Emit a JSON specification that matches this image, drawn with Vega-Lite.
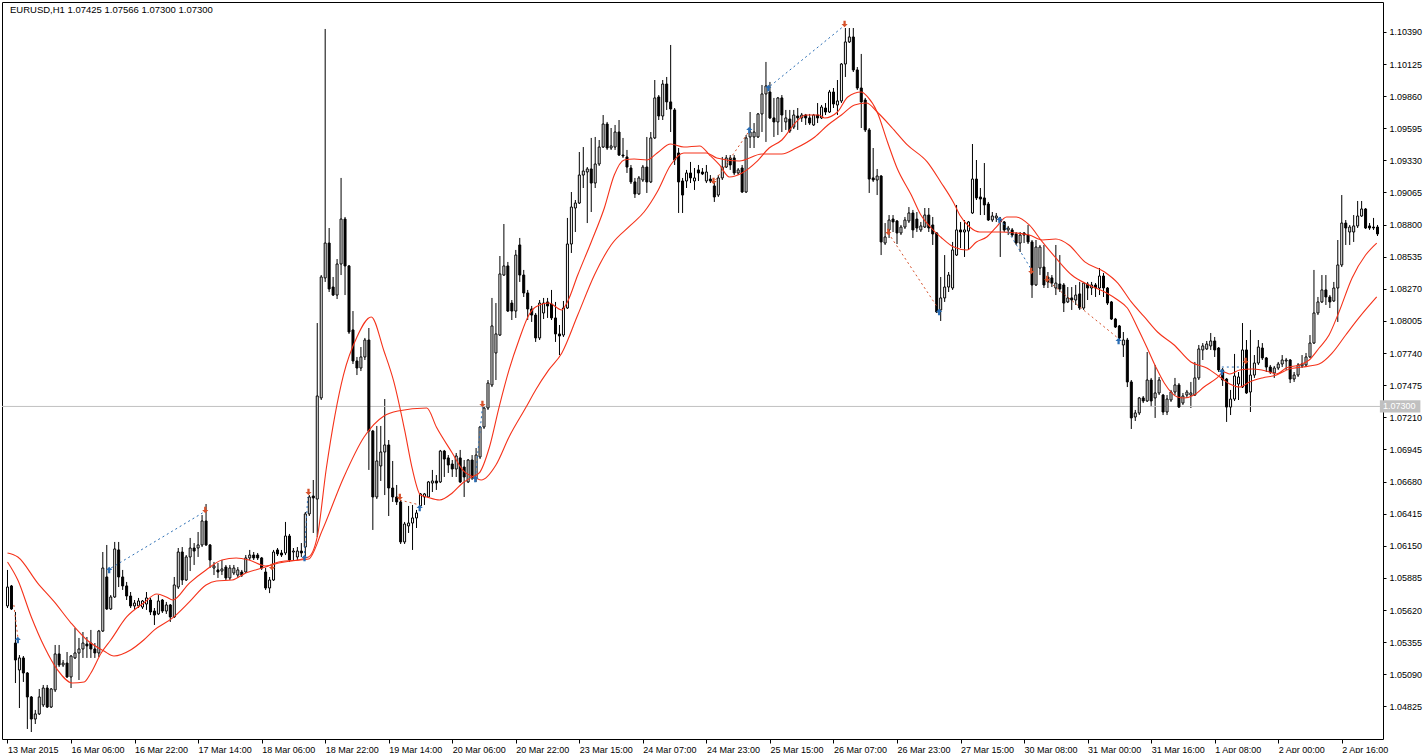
{
"$schema": "https://vega.github.io/schema/vega-lite/v6.json",
"width": 1381, "height": 737,
"autosize": {"type": "none"},
"padding": {"left": 2, "top": 2, "right": 45, "bottom": 14},
"background": "white",
"config": {"view": {"stroke": "black", "strokeWidth": 1}, "font": "Liberation Sans",
"axisX": {"labelOverlap": false, "labelFlush": false, "labelBound": false},
"axisY": {"labelOverlap": false, "labelFlush": false, "labelBound": false}},
"datasets": {
"bars": [
{"i":0,"o":1.05654,"h":1.05951,"l":1.05637,"c":1.05810},
{"i":1,"o":1.05819,"h":1.05827,"l":1.05621,"c":1.05629},
{"i":2,"o":1.05348,"h":1.05604,"l":1.05018,"c":1.05208},
{"i":3,"o":1.05126,"h":1.05249,"l":1.04812,"c":1.05225},
{"i":4,"o":1.05225,"h":1.05241,"l":1.05027,"c":1.05101},
{"i":5,"o":1.05101,"h":1.05109,"l":1.04639,"c":1.04903},
{"i":6,"o":1.04903,"h":1.04911,"l":1.04614,"c":1.04721},
{"i":7,"o":1.04721,"h":1.04796,"l":1.04680,"c":1.04763},
{"i":8,"o":1.04763,"h":1.04969,"l":1.04754,"c":1.04903},
{"i":9,"o":1.04837,"h":1.05002,"l":1.04820,"c":1.04977},
{"i":10,"o":1.04977,"h":1.05002,"l":1.04812,"c":1.04820},
{"i":11,"o":1.04820,"h":1.04977,"l":1.04812,"c":1.04969},
{"i":12,"o":1.04961,"h":1.05332,"l":1.04944,"c":1.05258},
{"i":13,"o":1.05258,"h":1.05332,"l":1.05150,"c":1.05167},
{"i":14,"o":1.05167,"h":1.05208,"l":1.05150,"c":1.05183},
{"i":15,"o":1.05183,"h":1.05274,"l":1.05060,"c":1.05068},
{"i":16,"o":1.05068,"h":1.05249,"l":1.04977,"c":1.05241},
{"i":17,"o":1.05225,"h":1.05472,"l":1.05216,"c":1.05266},
{"i":18,"o":1.05266,"h":1.05390,"l":1.05043,"c":1.05299},
{"i":19,"o":1.05299,"h":1.05439,"l":1.05225,"c":1.05348},
{"i":20,"o":1.05340,"h":1.05398,"l":1.05225,"c":1.05324},
{"i":21,"o":1.05348,"h":1.05456,"l":1.05225,"c":1.05299},
{"i":22,"o":1.05299,"h":1.05348,"l":1.05225,"c":1.05266},
{"i":23,"o":1.05266,"h":1.05456,"l":1.05233,"c":1.05447},
{"i":24,"o":1.05447,"h":1.06099,"l":1.05439,"c":1.05967},
{"i":25,"o":1.05893,"h":1.06157,"l":1.05621,"c":1.05629},
{"i":26,"o":1.05629,"h":1.05744,"l":1.05621,"c":1.05728},
{"i":27,"o":1.05728,"h":1.06182,"l":1.05720,"c":1.06124},
{"i":28,"o":1.06116,"h":1.06182,"l":1.05810,"c":1.05893},
{"i":29,"o":1.05893,"h":1.05951,"l":1.05786,"c":1.05819},
{"i":30,"o":1.05819,"h":1.05852,"l":1.05703,"c":1.05736},
{"i":31,"o":1.05736,"h":1.05769,"l":1.05637,"c":1.05654},
{"i":32,"o":1.05654,"h":1.05703,"l":1.05621,"c":1.05678},
{"i":33,"o":1.05654,"h":1.05720,"l":1.05637,"c":1.05695},
{"i":34,"o":1.05645,"h":1.05703,"l":1.05629,"c":1.05695},
{"i":35,"o":1.05670,"h":1.05769,"l":1.05621,"c":1.05720},
{"i":36,"o":1.05703,"h":1.05720,"l":1.05579,"c":1.05604},
{"i":37,"o":1.05612,"h":1.05637,"l":1.05497,"c":1.05579},
{"i":38,"o":1.05588,"h":1.05744,"l":1.05579,"c":1.05695},
{"i":39,"o":1.05703,"h":1.05711,"l":1.05596,"c":1.05612},
{"i":40,"o":1.05612,"h":1.05687,"l":1.05588,"c":1.05662},
{"i":41,"o":1.05662,"h":1.05670,"l":1.05522,"c":1.05563},
{"i":42,"o":1.05563,"h":1.05893,"l":1.05555,"c":1.05827},
{"i":43,"o":1.05810,"h":1.06132,"l":1.05794,"c":1.06099},
{"i":44,"o":1.06099,"h":1.06140,"l":1.05827,"c":1.05868},
{"i":45,"o":1.05868,"h":1.06074,"l":1.05860,"c":1.06058},
{"i":46,"o":1.06058,"h":1.06215,"l":1.05942,"c":1.06132},
{"i":47,"o":1.06132,"h":1.06173,"l":1.05992,"c":1.06107},
{"i":48,"o":1.06132,"h":1.06264,"l":1.06058,"c":1.06157},
{"i":49,"o":1.06157,"h":1.06404,"l":1.06140,"c":1.06355},
{"i":50,"o":1.06355,"h":1.06495,"l":1.06149,"c":1.06157},
{"i":51,"o":1.06157,"h":1.06165,"l":1.05967,"c":1.06033},
{"i":52,"o":1.05967,"h":1.06017,"l":1.05909,"c":1.05984},
{"i":53,"o":1.05951,"h":1.06008,"l":1.05885,"c":1.05934},
{"i":54,"o":1.05942,"h":1.06033,"l":1.05909,"c":1.05959},
{"i":55,"o":1.05975,"h":1.05992,"l":1.05868,"c":1.05885},
{"i":56,"o":1.05885,"h":1.05992,"l":1.05868,"c":1.05967},
{"i":57,"o":1.05926,"h":1.05992,"l":1.05909,"c":1.05967},
{"i":58,"o":1.05909,"h":1.05975,"l":1.05885,"c":1.05951},
{"i":59,"o":1.05934,"h":1.05951,"l":1.05893,"c":1.05909},
{"i":60,"o":1.05934,"h":1.06074,"l":1.05926,"c":1.06050},
{"i":61,"o":1.06050,"h":1.06116,"l":1.06033,"c":1.06074},
{"i":62,"o":1.06074,"h":1.06099,"l":1.06033,"c":1.06050},
{"i":63,"o":1.06074,"h":1.06091,"l":1.06033,"c":1.06050},
{"i":64,"o":1.06050,"h":1.06058,"l":1.05951,"c":1.05967},
{"i":65,"o":1.05934,"h":1.05967,"l":1.05786,"c":1.05802},
{"i":66,"o":1.05802,"h":1.05893,"l":1.05760,"c":1.05868},
{"i":67,"o":1.05868,"h":1.06116,"l":1.05860,"c":1.06099},
{"i":68,"o":1.06116,"h":1.06132,"l":1.06066,"c":1.06083},
{"i":69,"o":1.06091,"h":1.06116,"l":1.06058,"c":1.06074},
{"i":70,"o":1.06091,"h":1.06347,"l":1.06074,"c":1.06231},
{"i":71,"o":1.06231,"h":1.06248,"l":1.06017,"c":1.06033},
{"i":72,"o":1.06099,"h":1.06132,"l":1.06033,"c":1.06107},
{"i":73,"o":1.06058,"h":1.06140,"l":1.06033,"c":1.06107},
{"i":74,"o":1.06107,"h":1.06173,"l":1.06058,"c":1.06091},
{"i":75,"o":1.06140,"h":1.06429,"l":1.06066,"c":1.06413},
{"i":76,"o":1.06413,"h":1.06569,"l":1.06396,"c":1.06553},
{"i":77,"o":1.06561,"h":1.06693,"l":1.06256,"c":1.06545},
{"i":78,"o":1.06536,"h":1.07988,"l":1.06223,"c":1.07386},
{"i":79,"o":1.07370,"h":1.08384,"l":1.07353,"c":1.08368},
{"i":80,"o":1.08360,"h":1.10414,"l":1.08327,"c":1.08648},
{"i":81,"o":1.08648,"h":1.08772,"l":1.08244,"c":1.08269},
{"i":82,"o":1.08285,"h":1.08368,"l":1.08211,"c":1.08219},
{"i":83,"o":1.08219,"h":1.08516,"l":1.08186,"c":1.08475},
{"i":84,"o":1.08475,"h":1.09185,"l":1.08384,"c":1.08846},
{"i":85,"o":1.08846,"h":1.08863,"l":1.08219,"c":1.08459},
{"i":86,"o":1.08459,"h":1.08467,"l":1.07898,"c":1.07914},
{"i":87,"o":1.07931,"h":1.08087,"l":1.07650,"c":1.07675},
{"i":88,"o":1.07675,"h":1.07708,"l":1.07559,"c":1.07617},
{"i":89,"o":1.07617,"h":1.07790,"l":1.07592,"c":1.07708},
{"i":90,"o":1.07708,"h":1.07865,"l":1.07683,"c":1.07848},
{"i":91,"o":1.07848,"h":1.07947,"l":1.06776,"c":1.07097},
{"i":92,"o":1.07097,"h":1.07106,"l":1.06281,"c":1.06553},
{"i":93,"o":1.06553,"h":1.07139,"l":1.06536,"c":1.06850},
{"i":94,"o":1.06809,"h":1.07139,"l":1.06685,"c":1.06924},
{"i":95,"o":1.06924,"h":1.07361,"l":1.06569,"c":1.06982},
{"i":96,"o":1.06982,"h":1.07023,"l":1.06396,"c":1.06627},
{"i":97,"o":1.06627,"h":1.06850,"l":1.06512,"c":1.06553},
{"i":98,"o":1.06553,"h":1.06652,"l":1.06487,"c":1.06512},
{"i":99,"o":1.06512,"h":1.06528,"l":1.06165,"c":1.06182},
{"i":100,"o":1.06182,"h":1.06347,"l":1.06165,"c":1.06330},
{"i":101,"o":1.06314,"h":1.06479,"l":1.06256,"c":1.06338},
{"i":102,"o":1.06338,"h":1.06487,"l":1.06116,"c":1.06380},
{"i":103,"o":1.06380,"h":1.06446,"l":1.06297,"c":1.06421},
{"i":104,"o":1.06479,"h":1.06586,"l":1.06470,"c":1.06578},
{"i":105,"o":1.06553,"h":1.06586,"l":1.06487,"c":1.06578},
{"i":106,"o":1.06553,"h":1.06685,"l":1.06545,"c":1.06677},
{"i":107,"o":1.06668,"h":1.06776,"l":1.06594,"c":1.06685},
{"i":108,"o":1.06685,"h":1.06734,"l":1.06611,"c":1.06668},
{"i":109,"o":1.06677,"h":1.06941,"l":1.06668,"c":1.06932},
{"i":110,"o":1.06932,"h":1.06941,"l":1.06718,"c":1.06866},
{"i":111,"o":1.06875,"h":1.06899,"l":1.06751,"c":1.06817},
{"i":112,"o":1.06825,"h":1.06858,"l":1.06718,"c":1.06784},
{"i":113,"o":1.06784,"h":1.06916,"l":1.06718,"c":1.06891},
{"i":114,"o":1.06875,"h":1.06941,"l":1.06668,"c":1.06677},
{"i":115,"o":1.06800,"h":1.06858,"l":1.06553,"c":1.06718},
{"i":116,"o":1.06677,"h":1.06866,"l":1.06668,"c":1.06858},
{"i":117,"o":1.06858,"h":1.06899,"l":1.06693,"c":1.06710},
{"i":118,"o":1.06710,"h":1.06957,"l":1.06677,"c":1.06899},
{"i":119,"o":1.06883,"h":1.07139,"l":1.06866,"c":1.07130},
{"i":120,"o":1.07130,"h":1.07304,"l":1.07114,"c":1.07287},
{"i":121,"o":1.07287,"h":1.07518,"l":1.07271,"c":1.07493},
{"i":122,"o":1.07477,"h":1.08195,"l":1.07460,"c":1.07964},
{"i":123,"o":1.07741,"h":1.08153,"l":1.07518,"c":1.07898},
{"i":124,"o":1.07889,"h":1.08541,"l":1.07881,"c":1.08393},
{"i":125,"o":1.08384,"h":1.08805,"l":1.08376,"c":1.08459},
{"i":126,"o":1.08459,"h":1.08492,"l":1.08079,"c":1.08087},
{"i":127,"o":1.08153,"h":1.08178,"l":1.08013,"c":1.08087},
{"i":128,"o":1.08087,"h":1.08591,"l":1.08030,"c":1.08549},
{"i":129,"o":1.08632,"h":1.08690,"l":1.08327,"c":1.08384},
{"i":130,"o":1.08384,"h":1.08426,"l":1.08203,"c":1.08236},
{"i":131,"o":1.08236,"h":1.08261,"l":1.08013,"c":1.08104},
{"i":132,"o":1.08104,"h":1.08129,"l":1.07997,"c":1.08054},
{"i":133,"o":1.08054,"h":1.08071,"l":1.07832,"c":1.07865},
{"i":134,"o":1.07865,"h":1.08178,"l":1.07848,"c":1.08153},
{"i":135,"o":1.08071,"h":1.08195,"l":1.08021,"c":1.08153},
{"i":136,"o":1.08162,"h":1.08195,"l":1.08030,"c":1.08129},
{"i":137,"o":1.08145,"h":1.08261,"l":1.08013,"c":1.08030},
{"i":138,"o":1.08030,"h":1.08162,"l":1.07832,"c":1.07898},
{"i":139,"o":1.07898,"h":1.07972,"l":1.07724,"c":1.07881},
{"i":140,"o":1.07889,"h":1.08170,"l":1.07873,"c":1.08112},
{"i":141,"o":1.08112,"h":1.08855,"l":1.08104,"c":1.08640},
{"i":142,"o":1.08640,"h":1.09069,"l":1.08566,"c":1.08945},
{"i":143,"o":1.08937,"h":1.09003,"l":1.08739,"c":1.08978},
{"i":144,"o":1.08978,"h":1.09399,"l":1.08970,"c":1.09209},
{"i":145,"o":1.09209,"h":1.09440,"l":1.09102,"c":1.09242},
{"i":146,"o":1.09234,"h":1.09275,"l":1.08813,"c":1.09259},
{"i":147,"o":1.09259,"h":1.09515,"l":1.08904,"c":1.09143},
{"i":148,"o":1.09143,"h":1.09523,"l":1.09102,"c":1.09300},
{"i":149,"o":1.09300,"h":1.09498,"l":1.09284,"c":1.09440},
{"i":150,"o":1.09440,"h":1.09704,"l":1.09432,"c":1.09630},
{"i":151,"o":1.09630,"h":1.09647,"l":1.09416,"c":1.09432},
{"i":152,"o":1.09432,"h":1.09597,"l":1.09416,"c":1.09449},
{"i":153,"o":1.09440,"h":1.09622,"l":1.09416,"c":1.09564},
{"i":154,"o":1.09564,"h":1.09663,"l":1.09366,"c":1.09374},
{"i":155,"o":1.09374,"h":1.09515,"l":1.09350,"c":1.09366},
{"i":156,"o":1.09358,"h":1.09416,"l":1.09226,"c":1.09275},
{"i":157,"o":1.09267,"h":1.09292,"l":1.09135,"c":1.09152},
{"i":158,"o":1.09152,"h":1.09185,"l":1.09020,"c":1.09053},
{"i":159,"o":1.09053,"h":1.09201,"l":1.09044,"c":1.09185},
{"i":160,"o":1.09168,"h":1.09292,"l":1.09152,"c":1.09275},
{"i":161,"o":1.09275,"h":1.09523,"l":1.09061,"c":1.09152},
{"i":162,"o":1.09152,"h":1.09564,"l":1.09143,"c":1.09515},
{"i":163,"o":1.09515,"h":1.09993,"l":1.09506,"c":1.09845},
{"i":164,"o":1.09853,"h":1.09869,"l":1.09663,"c":1.09696},
{"i":165,"o":1.09696,"h":1.09993,"l":1.09663,"c":1.09960},
{"i":166,"o":1.09960,"h":1.10018,"l":1.09746,"c":1.09812},
{"i":167,"o":1.09812,"h":1.10282,"l":1.09564,"c":1.09754},
{"i":168,"o":1.09746,"h":1.09762,"l":1.09292,"c":1.09333},
{"i":169,"o":1.09391,"h":1.09432,"l":1.08896,"c":1.09152},
{"i":170,"o":1.09160,"h":1.09185,"l":1.08896,"c":1.09044},
{"i":171,"o":1.09160,"h":1.09251,"l":1.09102,"c":1.09226},
{"i":172,"o":1.09226,"h":1.09317,"l":1.09143,"c":1.09185},
{"i":173,"o":1.09160,"h":1.09267,"l":1.09086,"c":1.09185},
{"i":174,"o":1.09251,"h":1.09292,"l":1.09160,"c":1.09226},
{"i":175,"o":1.09234,"h":1.09267,"l":1.09209,"c":1.09218},
{"i":176,"o":1.09160,"h":1.09292,"l":1.09143,"c":1.09234},
{"i":177,"o":1.09176,"h":1.09209,"l":1.09143,"c":1.09160},
{"i":178,"o":1.09119,"h":1.09152,"l":1.08987,"c":1.09028},
{"i":179,"o":1.09044,"h":1.09209,"l":1.09028,"c":1.09185},
{"i":180,"o":1.09185,"h":1.09358,"l":1.09168,"c":1.09275},
{"i":181,"o":1.09275,"h":1.09374,"l":1.09267,"c":1.09350},
{"i":182,"o":1.09350,"h":1.09374,"l":1.09251,"c":1.09292},
{"i":183,"o":1.09350,"h":1.09374,"l":1.09209,"c":1.09226},
{"i":184,"o":1.09226,"h":1.09267,"l":1.09209,"c":1.09251},
{"i":185,"o":1.09267,"h":1.09292,"l":1.09061,"c":1.09069},
{"i":186,"o":1.09069,"h":1.09539,"l":1.09061,"c":1.09515},
{"i":187,"o":1.09523,"h":1.09729,"l":1.09432,"c":1.09564},
{"i":188,"o":1.09523,"h":1.09638,"l":1.09432,"c":1.09564},
{"i":189,"o":1.09523,"h":1.09721,"l":1.09515,"c":1.09713},
{"i":190,"o":1.09713,"h":1.09952,"l":1.09564,"c":1.09878},
{"i":191,"o":1.09878,"h":1.10142,"l":1.09482,"c":1.09944},
{"i":192,"o":1.09894,"h":1.09977,"l":1.09671,"c":1.09680},
{"i":193,"o":1.09680,"h":1.09845,"l":1.09523,"c":1.09647},
{"i":194,"o":1.09647,"h":1.09853,"l":1.09539,"c":1.09845},
{"i":195,"o":1.09845,"h":1.09869,"l":1.09564,"c":1.09704},
{"i":196,"o":1.09647,"h":1.09746,"l":1.09581,"c":1.09680},
{"i":197,"o":1.09671,"h":1.09746,"l":1.09556,"c":1.09572},
{"i":198,"o":1.09605,"h":1.09746,"l":1.09589,"c":1.09704},
{"i":199,"o":1.09696,"h":1.09762,"l":1.09581,"c":1.09680},
{"i":200,"o":1.09680,"h":1.09721,"l":1.09647,"c":1.09704},
{"i":201,"o":1.09704,"h":1.09713,"l":1.09622,"c":1.09680},
{"i":202,"o":1.09680,"h":1.09713,"l":1.09622,"c":1.09638},
{"i":203,"o":1.09622,"h":1.09713,"l":1.09614,"c":1.09704},
{"i":204,"o":1.09704,"h":1.09803,"l":1.09638,"c":1.09680},
{"i":205,"o":1.09680,"h":1.09787,"l":1.09671,"c":1.09770},
{"i":206,"o":1.09762,"h":1.09803,"l":1.09704,"c":1.09729},
{"i":207,"o":1.09729,"h":1.09911,"l":1.09721,"c":1.09894},
{"i":208,"o":1.09894,"h":1.09927,"l":1.09762,"c":1.09795},
{"i":209,"o":1.09787,"h":1.09993,"l":1.09704,"c":1.09820},
{"i":210,"o":1.09820,"h":1.10133,"l":1.09803,"c":1.10125},
{"i":211,"o":1.10125,"h":1.10422,"l":1.10018,"c":1.10307},
{"i":212,"o":1.10307,"h":1.10422,"l":1.10298,"c":1.10348},
{"i":213,"o":1.10348,"h":1.10422,"l":1.10059,"c":1.10076},
{"i":214,"o":1.10076,"h":1.10100,"l":1.09911,"c":1.09927},
{"i":215,"o":1.09927,"h":1.10208,"l":1.09597,"c":1.09812},
{"i":216,"o":1.09828,"h":1.09845,"l":1.09564,"c":1.09581},
{"i":217,"o":1.09581,"h":1.09597,"l":1.09061,"c":1.09176},
{"i":218,"o":1.09185,"h":1.09432,"l":1.09152,"c":1.09168},
{"i":219,"o":1.09168,"h":1.09259,"l":1.09044,"c":1.09201},
{"i":220,"o":1.09201,"h":1.09209,"l":1.08549,"c":1.08657},
{"i":221,"o":1.08648,"h":1.08813,"l":1.08632,"c":1.08698},
{"i":222,"o":1.08756,"h":1.08879,"l":1.08690,"c":1.08838},
{"i":223,"o":1.08846,"h":1.08879,"l":1.08739,"c":1.08822},
{"i":224,"o":1.08830,"h":1.08838,"l":1.08640,"c":1.08731},
{"i":225,"o":1.08731,"h":1.08797,"l":1.08714,"c":1.08780},
{"i":226,"o":1.08780,"h":1.08863,"l":1.08764,"c":1.08838},
{"i":227,"o":1.08830,"h":1.08945,"l":1.08813,"c":1.08896},
{"i":228,"o":1.08896,"h":1.08921,"l":1.08690,"c":1.08756},
{"i":229,"o":1.08846,"h":1.08904,"l":1.08739,"c":1.08772},
{"i":230,"o":1.08756,"h":1.08822,"l":1.08739,"c":1.08789},
{"i":231,"o":1.08780,"h":1.08937,"l":1.08772,"c":1.08879},
{"i":232,"o":1.08879,"h":1.08937,"l":1.08739,"c":1.08772},
{"i":233,"o":1.08797,"h":1.08863,"l":1.08632,"c":1.08723},
{"i":234,"o":1.08731,"h":1.08739,"l":1.08071,"c":1.08079},
{"i":235,"o":1.08096,"h":1.08368,"l":1.08005,"c":1.08195},
{"i":236,"o":1.08195,"h":1.08549,"l":1.08162,"c":1.08285},
{"i":237,"o":1.08285,"h":1.08409,"l":1.08244,"c":1.08384},
{"i":238,"o":1.08277,"h":1.08657,"l":1.08261,"c":1.08591},
{"i":239,"o":1.08549,"h":1.08962,"l":1.08541,"c":1.08756},
{"i":240,"o":1.08756,"h":1.08822,"l":1.08607,"c":1.08739},
{"i":241,"o":1.08739,"h":1.08838,"l":1.08533,"c":1.08756},
{"i":242,"o":1.08747,"h":1.08830,"l":1.08591,"c":1.08822},
{"i":243,"o":1.08896,"h":1.09465,"l":1.08888,"c":1.09176},
{"i":244,"o":1.09176,"h":1.09333,"l":1.09003,"c":1.09020},
{"i":245,"o":1.09028,"h":1.09102,"l":1.08879,"c":1.09011},
{"i":246,"o":1.09020,"h":1.09308,"l":1.08879,"c":1.08962},
{"i":247,"o":1.08970,"h":1.08987,"l":1.08830,"c":1.08838},
{"i":248,"o":1.08838,"h":1.08904,"l":1.08822,"c":1.08871},
{"i":249,"o":1.08855,"h":1.08896,"l":1.08822,"c":1.08871},
{"i":250,"o":1.08846,"h":1.08863,"l":1.08533,"c":1.08822},
{"i":251,"o":1.08822,"h":1.08830,"l":1.08739,"c":1.08756},
{"i":252,"o":1.08756,"h":1.08789,"l":1.08714,"c":1.08772},
{"i":253,"o":1.08756,"h":1.08772,"l":1.08698,"c":1.08714},
{"i":254,"o":1.08723,"h":1.08739,"l":1.08632,"c":1.08648},
{"i":255,"o":1.08648,"h":1.08739,"l":1.08574,"c":1.08714},
{"i":256,"o":1.08731,"h":1.08739,"l":1.08648,"c":1.08714},
{"i":257,"o":1.08714,"h":1.08797,"l":1.08640,"c":1.08657},
{"i":258,"o":1.08657,"h":1.08673,"l":1.08195,"c":1.08302},
{"i":259,"o":1.08302,"h":1.08673,"l":1.08294,"c":1.08615},
{"i":260,"o":1.08442,"h":1.08632,"l":1.08384,"c":1.08615},
{"i":261,"o":1.08450,"h":1.08632,"l":1.08277,"c":1.08302},
{"i":262,"o":1.08368,"h":1.08409,"l":1.08277,"c":1.08327},
{"i":263,"o":1.08360,"h":1.08384,"l":1.08285,"c":1.08318},
{"i":264,"o":1.08277,"h":1.08632,"l":1.08219,"c":1.08318},
{"i":265,"o":1.08310,"h":1.08549,"l":1.08244,"c":1.08269},
{"i":266,"o":1.08302,"h":1.08318,"l":1.08079,"c":1.08153},
{"i":267,"o":1.08162,"h":1.08285,"l":1.08153,"c":1.08195},
{"i":268,"o":1.08195,"h":1.08285,"l":1.08096,"c":1.08178},
{"i":269,"o":1.08178,"h":1.08302,"l":1.08137,"c":1.08219},
{"i":270,"o":1.08228,"h":1.08327,"l":1.08096,"c":1.08112},
{"i":271,"o":1.08112,"h":1.08327,"l":1.08096,"c":1.08318},
{"i":272,"o":1.08310,"h":1.08327,"l":1.08178,"c":1.08277},
{"i":273,"o":1.08277,"h":1.08327,"l":1.08219,"c":1.08302},
{"i":274,"o":1.08302,"h":1.08318,"l":1.08203,"c":1.08277},
{"i":275,"o":1.08277,"h":1.08442,"l":1.08219,"c":1.08376},
{"i":276,"o":1.08376,"h":1.08401,"l":1.08203,"c":1.08277},
{"i":277,"o":1.08277,"h":1.08285,"l":1.08137,"c":1.08153},
{"i":278,"o":1.08162,"h":1.08170,"l":1.08013,"c":1.08021},
{"i":279,"o":1.08021,"h":1.08030,"l":1.07947,"c":1.07955},
{"i":280,"o":1.07964,"h":1.07972,"l":1.07848,"c":1.07865},
{"i":281,"o":1.07807,"h":1.07914,"l":1.07708,"c":1.07848},
{"i":282,"o":1.07848,"h":1.07865,"l":1.07460,"c":1.07502},
{"i":283,"o":1.07502,"h":1.07518,"l":1.07114,"c":1.07205},
{"i":284,"o":1.07213,"h":1.07271,"l":1.07180,"c":1.07246},
{"i":285,"o":1.07246,"h":1.07378,"l":1.07229,"c":1.07370},
{"i":286,"o":1.07370,"h":1.07386,"l":1.07328,"c":1.07345},
{"i":287,"o":1.07345,"h":1.07749,"l":1.07337,"c":1.07518},
{"i":288,"o":1.07518,"h":1.07535,"l":1.07295,"c":1.07345},
{"i":289,"o":1.07370,"h":1.07642,"l":1.07205,"c":1.07411},
{"i":290,"o":1.07411,"h":1.07543,"l":1.07394,"c":1.07518},
{"i":291,"o":1.07394,"h":1.07403,"l":1.07229,"c":1.07254},
{"i":292,"o":1.07254,"h":1.07394,"l":1.07229,"c":1.07361},
{"i":293,"o":1.07353,"h":1.07436,"l":1.07337,"c":1.07419},
{"i":294,"o":1.07419,"h":1.07535,"l":1.07394,"c":1.07477},
{"i":295,"o":1.07477,"h":1.07493,"l":1.07287,"c":1.07295},
{"i":296,"o":1.07328,"h":1.07411,"l":1.07312,"c":1.07386},
{"i":297,"o":1.07394,"h":1.07436,"l":1.07370,"c":1.07419},
{"i":298,"o":1.07394,"h":1.07502,"l":1.07287,"c":1.07411},
{"i":299,"o":1.07394,"h":1.07667,"l":1.07386,"c":1.07535},
{"i":300,"o":1.07535,"h":1.07807,"l":1.07518,"c":1.07774},
{"i":301,"o":1.07766,"h":1.07823,"l":1.07683,"c":1.07799},
{"i":302,"o":1.07774,"h":1.07840,"l":1.07766,"c":1.07815},
{"i":303,"o":1.07799,"h":1.07906,"l":1.07766,"c":1.07840},
{"i":304,"o":1.07840,"h":1.07873,"l":1.07708,"c":1.07766},
{"i":305,"o":1.07782,"h":1.07790,"l":1.07584,"c":1.07601},
{"i":306,"o":1.07601,"h":1.07617,"l":1.07469,"c":1.07518},
{"i":307,"o":1.07526,"h":1.07535,"l":1.07172,"c":1.07295},
{"i":308,"o":1.07295,"h":1.07436,"l":1.07229,"c":1.07361},
{"i":309,"o":1.07361,"h":1.07733,"l":1.07345,"c":1.07551},
{"i":310,"o":1.07485,"h":1.07584,"l":1.07353,"c":1.07543},
{"i":311,"o":1.07460,"h":1.07988,"l":1.07452,"c":1.07766},
{"i":312,"o":1.07766,"h":1.07848,"l":1.07403,"c":1.07411},
{"i":313,"o":1.07419,"h":1.07931,"l":1.07254,"c":1.07559},
{"i":314,"o":1.07559,"h":1.07724,"l":1.07535,"c":1.07658},
{"i":315,"o":1.07658,"h":1.07848,"l":1.07642,"c":1.07790},
{"i":316,"o":1.07782,"h":1.07823,"l":1.07683,"c":1.07700},
{"i":317,"o":1.07700,"h":1.07708,"l":1.07584,"c":1.07625},
{"i":318,"o":1.07625,"h":1.07642,"l":1.07568,"c":1.07584},
{"i":319,"o":1.07576,"h":1.07634,"l":1.07535,"c":1.07617},
{"i":320,"o":1.07617,"h":1.07667,"l":1.07601,"c":1.07650},
{"i":321,"o":1.07650,"h":1.07724,"l":1.07625,"c":1.07683},
{"i":322,"o":1.07675,"h":1.07700,"l":1.07601,"c":1.07683},
{"i":323,"o":1.07683,"h":1.07691,"l":1.07493,"c":1.07526},
{"i":324,"o":1.07526,"h":1.07584,"l":1.07502,"c":1.07559},
{"i":325,"o":1.07559,"h":1.07658,"l":1.07543,"c":1.07642},
{"i":326,"o":1.07634,"h":1.07724,"l":1.07617,"c":1.07650},
{"i":327,"o":1.07642,"h":1.07741,"l":1.07625,"c":1.07708},
{"i":328,"o":1.07708,"h":1.07889,"l":1.07700,"c":1.07823},
{"i":329,"o":1.07823,"h":1.08426,"l":1.07815,"c":1.08071},
{"i":330,"o":1.08071,"h":1.08203,"l":1.08054,"c":1.08162},
{"i":331,"o":1.08162,"h":1.08384,"l":1.08153,"c":1.08261},
{"i":332,"o":1.08261,"h":1.08384,"l":1.08137,"c":1.08203},
{"i":333,"o":1.08203,"h":1.08219,"l":1.08112,"c":1.08162},
{"i":334,"o":1.08170,"h":1.08327,"l":1.08162,"c":1.08277},
{"i":335,"o":1.08277,"h":1.08673,"l":1.07997,"c":1.08467},
{"i":336,"o":1.08467,"h":1.09044,"l":1.08450,"c":1.08813},
{"i":337,"o":1.08813,"h":1.08838,"l":1.08632,"c":1.08772},
{"i":338,"o":1.08739,"h":1.08797,"l":1.08632,"c":1.08780},
{"i":339,"o":1.08739,"h":1.08879,"l":1.08657,"c":1.08789},
{"i":340,"o":1.08789,"h":1.08995,"l":1.08772,"c":1.08871},
{"i":341,"o":1.08871,"h":1.08995,"l":1.08863,"c":1.08929},
{"i":342,"o":1.08929,"h":1.08937,"l":1.08764,"c":1.08772},
{"i":343,"o":1.08789,"h":1.08813,"l":1.08756,"c":1.08772},
{"i":344,"o":1.08780,"h":1.08855,"l":1.08756,"c":1.08772},
{"i":345,"o":1.08780,"h":1.08797,"l":1.08706,"c":1.08723}
],
"ma": [
{"ma":"fast","i":0,"v":1.06017},{"ma":"fast","i":2.6,"v":1.05868},{"ma":"fast","i":6,"v":1.05563},{"ma":"fast","i":9.3,"v":1.05315},{"ma":"fast","i":12.6,"v":1.05126},{"ma":"fast","i":16.3,"v":1.05018},{"ma":"fast","i":19.3,"v":1.05027},{"ma":"fast","i":21,"v":1.05101},{"ma":"fast","i":23.6,"v":1.05266},{"ma":"fast","i":26,"v":1.05373},{"ma":"fast","i":30,"v":1.05563},{"ma":"fast","i":34.3,"v":1.05678},{"ma":"fast","i":37.6,"v":1.05753},{"ma":"fast","i":40,"v":1.05728},{"ma":"fast","i":41.6,"v":1.05703},{"ma":"fast","i":45.8,"v":1.05843},{"ma":"fast","i":50,"v":1.05951},{"ma":"fast","i":54,"v":1.06033},{"ma":"fast","i":57.6,"v":1.06050},{"ma":"fast","i":60.8,"v":1.06033},{"ma":"fast","i":65,"v":1.05984},{"ma":"fast","i":68.3,"v":1.06008},{"ma":"fast","i":75.8,"v":1.06058},{"ma":"fast","i":78,"v":1.06223},{"ma":"fast","i":80.3,"v":1.06792},{"ma":"fast","i":84.6,"v":1.07559},{"ma":"fast","i":88,"v":1.07873},{"ma":"fast","i":91.6,"v":1.08038},{"ma":"fast","i":94.8,"v":1.07757},{"ma":"fast","i":97.3,"v":1.07502},{"ma":"fast","i":100,"v":1.07106},{"ma":"fast","i":102,"v":1.06776},{"ma":"fast","i":104,"v":1.06569},{"ma":"fast","i":105.6,"v":1.06553},{"ma":"fast","i":108.8,"v":1.06528},{"ma":"fast","i":112,"v":1.06586},{"ma":"fast","i":114.6,"v":1.06668},{"ma":"fast","i":117,"v":1.06718},{"ma":"fast","i":118.8,"v":1.06751},{"ma":"fast","i":121.3,"v":1.06957},{"ma":"fast","i":123.8,"v":1.07295},{"ma":"fast","i":126.3,"v":1.07601},{"ma":"fast","i":128.8,"v":1.07848},{"ma":"fast","i":131.3,"v":1.08054},{"ma":"fast","i":133,"v":1.08120},{"ma":"fast","i":136.3,"v":1.08153},{"ma":"fast","i":139.6,"v":1.08096},{"ma":"fast","i":141,"v":1.08162},{"ma":"fast","i":143.6,"v":1.08384},{"ma":"fast","i":147,"v":1.08657},{"ma":"fast","i":150.3,"v":1.08937},{"ma":"fast","i":152.8,"v":1.09209},{"ma":"fast","i":155.3,"v":1.09333},{"ma":"fast","i":157.8,"v":1.09341},{"ma":"fast","i":161,"v":1.09333},{"ma":"fast","i":163.6,"v":1.09391},{"ma":"fast","i":167,"v":1.09465},{"ma":"fast","i":170.3,"v":1.09440},{"ma":"fast","i":174.3,"v":1.09449},{"ma":"fast","i":176.8,"v":1.09374},{"ma":"fast","i":179.3,"v":1.09292},{"ma":"fast","i":181.8,"v":1.09193},{"ma":"fast","i":185,"v":1.09226},{"ma":"fast","i":188.6,"v":1.09317},{"ma":"fast","i":191.8,"v":1.09432},{"ma":"fast","i":195,"v":1.09498},{"ma":"fast","i":198.6,"v":1.09647},{"ma":"fast","i":201,"v":1.09704},{"ma":"fast","i":204.3,"v":1.09704},{"ma":"fast","i":205.8,"v":1.09680},{"ma":"fast","i":209,"v":1.09729},{"ma":"fast","i":211.6,"v":1.09853},{"ma":"fast","i":215,"v":1.09894},{"ma":"fast","i":216.6,"v":1.09853},{"ma":"fast","i":219,"v":1.09729},{"ma":"fast","i":221.6,"v":1.09482},{"ma":"fast","i":224,"v":1.09267},{"ma":"fast","i":227.6,"v":1.09044},{"ma":"fast","i":230,"v":1.08879},{"ma":"fast","i":232.6,"v":1.08772},{"ma":"fast","i":235,"v":1.08698},{"ma":"fast","i":238.3,"v":1.08615},{"ma":"fast","i":241.6,"v":1.08591},{"ma":"fast","i":244,"v":1.08657},{"ma":"fast","i":246.6,"v":1.08698},{"ma":"fast","i":249,"v":1.08780},{"ma":"fast","i":251.6,"v":1.08863},{"ma":"fast","i":254,"v":1.08863},{"ma":"fast","i":257.3,"v":1.08797},{"ma":"fast","i":260.6,"v":1.08657},{"ma":"fast","i":264,"v":1.08525},{"ma":"fast","i":268,"v":1.08384},{"ma":"fast","i":272.3,"v":1.08302},{"ma":"fast","i":276.3,"v":1.08244},{"ma":"fast","i":279.6,"v":1.08178},{"ma":"fast","i":282,"v":1.08112},{"ma":"fast","i":284.6,"v":1.07947},{"ma":"fast","i":287,"v":1.07782},{"ma":"fast","i":289.3,"v":1.07617},{"ma":"fast","i":291.3,"v":1.07493},{"ma":"fast","i":294.6,"v":1.07378},{"ma":"fast","i":296.3,"v":1.07370},{"ma":"fast","i":298.8,"v":1.07394},{"ma":"fast","i":301.3,"v":1.07460},{"ma":"fast","i":304.6,"v":1.07535},{"ma":"fast","i":306.3,"v":1.07584},{"ma":"fast","i":307.8,"v":1.07568},{"ma":"fast","i":310.3,"v":1.07601},{"ma":"fast","i":313.6,"v":1.07609},{"ma":"fast","i":317,"v":1.07592},{"ma":"fast","i":319.6,"v":1.07568},{"ma":"fast","i":322,"v":1.07617},{"ma":"fast","i":325.3,"v":1.07642},{"ma":"fast","i":327.8,"v":1.07683},{"ma":"fast","i":330.3,"v":1.07782},{"ma":"fast","i":332.8,"v":1.07889},{"ma":"fast","i":335.3,"v":1.08079},{"ma":"fast","i":338.6,"v":1.08360},{"ma":"fast","i":342,"v":1.08549},{"ma":"fast","i":344.8,"v":1.08648},
{"ma":"slow","i":0,"v":1.06091},{"ma":"slow","i":2.6,"v":1.06058},{"ma":"slow","i":7.6,"v":1.05843},{"ma":"slow","i":11.8,"v":1.05687},{"ma":"slow","i":16,"v":1.05513},{"ma":"slow","i":20,"v":1.05373},{"ma":"slow","i":24.3,"v":1.05282},{"ma":"slow","i":26.8,"v":1.05241},{"ma":"slow","i":31,"v":1.05291},{"ma":"slow","i":34.3,"v":1.05373},{"ma":"slow","i":37,"v":1.05456},{"ma":"slow","i":41.6,"v":1.05555},{"ma":"slow","i":45.8,"v":1.05687},{"ma":"slow","i":50,"v":1.05827},{"ma":"slow","i":52.6,"v":1.05860},{"ma":"slow","i":56.6,"v":1.05868},{"ma":"slow","i":60,"v":1.05926},{"ma":"slow","i":65,"v":1.05975},{"ma":"slow","i":68.3,"v":1.06017},{"ma":"slow","i":75.8,"v":1.06041},{"ma":"slow","i":79.3,"v":1.06281},{"ma":"slow","i":84.6,"v":1.06710},{"ma":"slow","i":89.8,"v":1.07048},{"ma":"slow","i":94.8,"v":1.07221},{"ma":"slow","i":98.3,"v":1.07262},{"ma":"slow","i":105.6,"v":1.07287},{"ma":"slow","i":108,"v":1.07130},{"ma":"slow","i":112,"v":1.06916},{"ma":"slow","i":114.6,"v":1.06776},{"ma":"slow","i":118,"v":1.06710},{"ma":"slow","i":119.3,"v":1.06693},{"ma":"slow","i":123,"v":1.06817},{"ma":"slow","i":126.3,"v":1.07048},{"ma":"slow","i":130.6,"v":1.07295},{"ma":"slow","i":133,"v":1.07436},{"ma":"slow","i":136.3,"v":1.07601},{"ma":"slow","i":139.6,"v":1.07741},{"ma":"slow","i":143.6,"v":1.08054},{"ma":"slow","i":147.8,"v":1.08384},{"ma":"slow","i":152,"v":1.08632},{"ma":"slow","i":157,"v":1.08797},{"ma":"slow","i":160.3,"v":1.08904},{"ma":"slow","i":163.6,"v":1.09069},{"ma":"slow","i":167,"v":1.09292},{"ma":"slow","i":170.3,"v":1.09391},{"ma":"slow","i":176,"v":1.09391},{"ma":"slow","i":178.6,"v":1.09350},{"ma":"slow","i":184.3,"v":1.09325},{"ma":"slow","i":190,"v":1.09383},{"ma":"slow","i":195,"v":1.09383},{"ma":"slow","i":198.6,"v":1.09432},{"ma":"slow","i":203.3,"v":1.09523},{"ma":"slow","i":206.6,"v":1.09622},{"ma":"slow","i":210,"v":1.09704},{"ma":"slow","i":213.3,"v":1.09787},{"ma":"slow","i":216.3,"v":1.09803},{"ma":"slow","i":219,"v":1.09729},{"ma":"slow","i":222.6,"v":1.09605},{"ma":"slow","i":226.6,"v":1.09457},{"ma":"slow","i":231.6,"v":1.09317},{"ma":"slow","i":235,"v":1.09152},{"ma":"slow","i":238.3,"v":1.08978},{"ma":"slow","i":239.8,"v":1.08879},{"ma":"slow","i":242.3,"v":1.08780},{"ma":"slow","i":244.8,"v":1.08739},{"ma":"slow","i":249.8,"v":1.08739},{"ma":"slow","i":254,"v":1.08731},{"ma":"slow","i":257.3,"v":1.08714},{"ma":"slow","i":260.6,"v":1.08673},{"ma":"slow","i":264,"v":1.08681},{"ma":"slow","i":267.3,"v":1.08632},{"ma":"slow","i":271.3,"v":1.08492},{"ma":"slow","i":276.3,"v":1.08409},{"ma":"slow","i":279.6,"v":1.08318},{"ma":"slow","i":283,"v":1.08162},{"ma":"slow","i":286.3,"v":1.08038},{"ma":"slow","i":289.6,"v":1.07914},{"ma":"slow","i":293.8,"v":1.07807},{"ma":"slow","i":298,"v":1.07667},{"ma":"slow","i":302,"v":1.07617},{"ma":"slow","i":305.3,"v":1.07543},{"ma":"slow","i":307.8,"v":1.07485},{"ma":"slow","i":310.3,"v":1.07460},{"ma":"slow","i":312.8,"v":1.07502},{"ma":"slow","i":316,"v":1.07535},{"ma":"slow","i":319.6,"v":1.07559},{"ma":"slow","i":322.8,"v":1.07609},{"ma":"slow","i":326,"v":1.07625},{"ma":"slow","i":330.3,"v":1.07650},{"ma":"slow","i":333.6,"v":1.07741},{"ma":"slow","i":337,"v":1.07889},{"ma":"slow","i":340.3,"v":1.08030},{"ma":"slow","i":344.8,"v":1.08203}
],
"trades": [
{"seg":"b1","side":"buy","i":26.1,"p":1.05967},{"seg":"b1","side":"buy","i":49.1,"p":1.06421},
{"seg":"b2","side":"buy","i":74.8,"p":1.06091},{"seg":"b2","side":"buy","i":75.6,"p":1.06553},
{"seg":"b3","side":"buy","i":117.8,"p":1.06710},{"seg":"b3","side":"buy","i":119.6,"p":1.07295},
{"seg":"b4","side":"buy","i":192.1,"p":1.09944},{"seg":"b4","side":"buy","i":210.3,"p":1.10430},
{"seg":"b5","side":"buy","i":250.1,"p":1.08846},{"seg":"b5","side":"buy","i":257.6,"p":1.08442},
{"seg":"b6","side":"buy","i":305.8,"p":1.07625},{"seg":"b6","side":"buy","i":311.6,"p":1.07625},
{"seg":"s1","side":"sell","i":1.6,"p":1.05662},{"seg":"s1","side":"sell","i":2.6,"p":1.05398},
{"seg":"s2","side":"sell","i":98.8,"p":1.06528},{"seg":"s2","side":"sell","i":103.8,"p":1.06487},
{"seg":"s3","side":"sell","i":178.3,"p":1.09168},{"seg":"s3","side":"sell","i":186.6,"p":1.09564},
{"seg":"s4","side":"sell","i":221.8,"p":1.08731},{"seg":"s4","side":"sell","i":234.3,"p":1.08112},
{"seg":"s5","side":"sell","i":262.3,"p":1.08327},{"seg":"s5","side":"sell","i":279.3,"p":1.07873}
],
"arrows": [
{"side":"buy","i":2.6,"p":1.05373},{"side":"buy","i":25.6,"p":1.05951},{"side":"buy","i":74.8,"p":1.06050},{"side":"buy","i":103.8,"p":1.06462},{"side":"buy","i":117.8,"p":1.06701},{"side":"buy","i":186.8,"p":1.09581},{"side":"buy","i":191.6,"p":1.09927},{"side":"buy","i":234.6,"p":1.08079},{"side":"buy","i":249.8,"p":1.08838},{"side":"buy","i":279.8,"p":1.07840},{"side":"buy","i":305.8,"p":1.07584},
{"side":"sell","i":49.8,"p":1.06446},{"side":"sell","i":66.6,"p":1.05975},{"side":"sell","i":75.8,"p":1.06594},{"side":"sell","i":98.8,"p":1.06553},{"side":"sell","i":119.6,"p":1.07320},{"side":"sell","i":177.8,"p":1.09160},{"side":"sell","i":210.8,"p":1.10455},{"side":"sell","i":221.8,"p":1.08739},{"side":"sell","i":257.8,"p":1.08417},{"side":"sell","i":261.8,"p":1.08351},{"side":"sell","i":311.8,"p":1.07675}
],
"last": [{"p":1.073}],
"header": [{"t":"EURUSD,H1  1.07425 1.07566 1.07300 1.07300"}]
},
"layer": [
{
"data": {"name": "bars"},
"mark": {"type": "rule", "color": "black", "strokeWidth": 1, "clip": true},
"encoding": {
"x": {"field": "i", "type": "quantitative", "title": null,
"scale": {"domain": [-0.125, 345.125], "nice": false, "zero": false},
"axis": {"title": null, "orient": "bottom", "values": [0,16,32,48,64,80,96,112,128,144,160,176,192,208,224,240,256,272,288,304,320,336], "tickCount": 60,
"labelExpr": "['13 Mar 2015','16 Mar 06:00','16 Mar 22:00','17 Mar 14:00','18 Mar 06:00','18 Mar 22:00','19 Mar 14:00','20 Mar 06:00','20 Mar 22:00','23 Mar 15:00','24 Mar 07:00','24 Mar 23:00','25 Mar 15:00','26 Mar 07:00','26 Mar 23:00','27 Mar 15:00','30 Mar 08:00','31 Mar 00:00','31 Mar 16:00','1 Apr 08:00','2 Apr 00:00','2 Apr 16:00'][round(datum.value/16)]",
"domain": false, "grid": false, "ticks": true, "tickSize": 4, "tickColor": "black", "tickWidth": 1,
"labelAlign": "left", "labelBaseline": "top", "labelPadding": 2, "labelFont": "Liberation Sans", "labelFontSize": 9, "labelColor": "black",
"labelFlush": false, "labelOverlap": false, "labelBound": false}},
"y": {"field": "l", "type": "quantitative", "title": null,
"scale": {"domain": [1.045563, 1.106365], "nice": false, "zero": false},
"axis": {"title": null, "orient": "right",
"values": [1.04825,1.05090,1.05355,1.05620,1.05885,1.06150,1.06415,1.06680,1.06945,1.07210,1.07475,1.07740,1.08005,1.08270,1.08535,1.08800,1.09065,1.09330,1.09595,1.09860,1.10125,1.10390], "tickCount": 60,
"format": ".5f", "domain": false, "grid": false, "ticks": true, "tickSize": 3, "tickColor": "black", "tickWidth": 1,
"labelPadding": 3, "labelAlign": "left", "labelBaseline": "middle", "labelFont": "Liberation Sans", "labelFontSize": 9, "labelColor": "black",
"labelFlush": false, "labelOverlap": false, "labelBound": false}},
"y2": {"field": "h"}
}
},
{
"data": {"name": "last"},
"mark": {"type": "rule", "color": "#c0c0c0", "strokeWidth": 1},
"encoding": {
"y": {"field": "p", "type": "quantitative", "title": null}
}
},
{
"data": {"name": "bars"},
"mark": {"type": "bar", "width": 2, "stroke": "black", "strokeWidth": 1, "clip": true},
"encoding": {
"x": {"field": "i", "type": "quantitative", "title": null},
"y": {"field": "o", "type": "quantitative", "title": null},
"y2": {"field": "c"},
"fill": {"condition": {"test": "datum.c >= datum.o", "value": "white"}, "value": "black"}
}
},
{
"data": {"name": "ma"},
"mark": {"type": "line", "color": "#f5321a", "strokeWidth": 1.1, "interpolate": "monotone", "clip": true},
"encoding": {
"x": {"field": "i", "type": "quantitative", "title": null},
"y": {"field": "v", "type": "quantitative", "title": null},
"detail": {"field": "ma", "type": "nominal"}
}
},
{
"data": {"name": "trades"},
"mark": {"type": "line", "strokeWidth": 1, "strokeDash": [2, 3], "clip": true},
"encoding": {
"x": {"field": "i", "type": "quantitative", "title": null},
"y": {"field": "p", "type": "quantitative", "title": null},
"detail": {"field": "seg", "type": "nominal"},
"color": {"field": "side", "type": "nominal", "scale": {"domain": ["buy", "sell"], "range": ["#2a6db4", "#d6522c"]}, "legend": null}
}
},
{
"data": {"name": "arrows"},
"mark": {"type": "point", "filled": true, "size": 42, "opacity": 1, "clip": true},
"encoding": {
"x": {"field": "i", "type": "quantitative", "title": null},
"y": {"field": "p", "type": "quantitative", "title": null},
"color": {"field": "side", "type": "nominal", "scale": {"domain": ["buy", "sell"], "range": ["#2a6db4", "#d6522c"]}, "legend": null},
"shape": {"field": "side", "type": "nominal", "scale": {"domain": ["buy", "sell"], "range": ["M0,-1L0.95,0L0.35,0L0.35,1L-0.35,1L-0.35,0L-0.95,0Z", "M0,1L0.95,0L0.35,0L0.35,-1L-0.35,-1L-0.35,0L-0.95,0Z"]}, "legend": null}
}
},
{
"data": {"name": "last"},
"mark": {"type": "rect", "fill": "#c0c0c0"},
"encoding": {
"x": {"datum": 345.6},
"x2": {"datum": 355.8},
"y": {"datum": 1.0735},
"y2": {"datum": 1.0725}
}
},
{
"data": {"name": "last"},
"mark": {"type": "text", "align": "left", "baseline": "middle", "font": "Liberation Sans", "fontSize": 9, "color": "white"},
"encoding": {
"x": {"datum": 346.4},
"y": {"field": "p", "type": "quantitative", "title": null},
"text": {"field": "p", "type": "quantitative", "format": ".5f"}
}
},
{
"data": {"name": "header"},
"mark": {"type": "text", "align": "left", "baseline": "alphabetic", "font": "Liberation Sans", "fontSize": 9.5, "color": "black"},
"encoding": {
"x": {"datum": 0.625},
"y": {"datum": 1.10546},
"text": {"field": "t", "type": "nominal"}
}
}
]
}
